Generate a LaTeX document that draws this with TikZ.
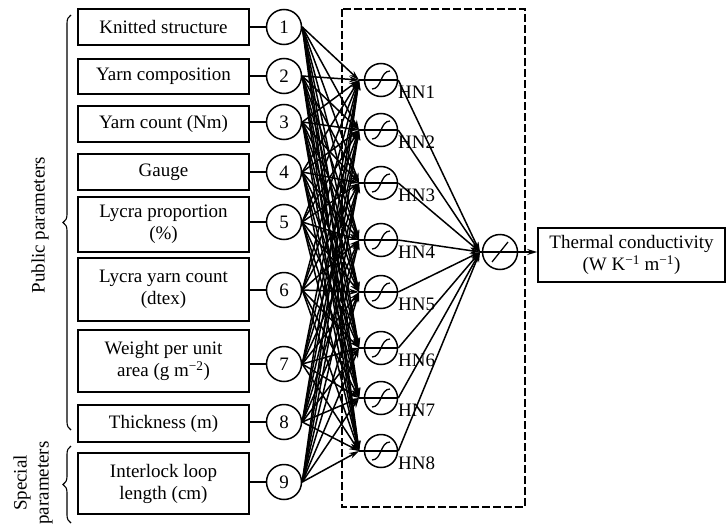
\documentclass[tikz,border=0pt]{standalone}
\usepackage{fontspec}
\setmainfont{Liberation Serif}
\usetikzlibrary{arrows.meta,decorations.pathreplacing,calc}
\begin{document}
\begin{tikzpicture}[x=1pt,y=-1pt,
  font=\fontsize{19}{22}\selectfont,
  inbox/.style={draw,line width=1.6pt,minimum width=171pt,inner sep=0pt,align=center},
  incirc/.style={draw,circle,line width=1.5pt,minimum size=35pt,inner sep=0pt},
  hcirc/.style={draw,circle,line width=1.5pt,minimum size=33pt,inner sep=0pt},
  conn/.style={line width=1.6pt},
  arr/.style={line width=1.5pt,-{Stealth[length=10pt,width=6pt]}},
  bracestyle/.style={decorate,decoration={brace,amplitude=8pt},line width=1.1pt},
  hlabel/.style={anchor=west,inner sep=0pt},
]
\useasboundingbox (0,0) rectangle (727,527);
\fill[white] (0,0) rectangle (727,527);

% input boxes
\node[inbox,minimum height=36pt] (b1) at (163.5,27) {Knitted structure};
\node[inbox,minimum height=35pt] (b2) at (163.5,76.5) {Yarn composition};
\node[inbox,minimum height=36pt] (b3) at (163.5,124) {Yarn count (Nm)};
\node[inbox,minimum height=36pt] (b4) at (163.5,172) {Gauge};
\node[inbox,minimum height=55pt] (b5) at (163.5,224.5) {Lycra proportion\\(\%)};
\node[inbox,minimum height=63pt] (b6) at (163.5,289.5) {Lycra yarn count\\(dtex)};
\node[inbox,minimum height=62pt] (b7) at (163.5,361) {Weight per unit\\area (g m\textsuperscript{−2})};
\node[inbox,minimum height=37pt] (b8) at (163.5,423.5) {Thickness (m)};
\node[inbox,minimum height=61pt] (b9) at (163.5,483.5) {Interlock loop\\length (cm)};

% input circles
\foreach \k/\y in {1/27,2/76,3/122,4/172,5/222,6/290,7/364,8/422,9/482}{
  \node[incirc] (i\k) at (284,\y) {\k};
  \draw[conn] (i\k.west -| b\k.east) -- (i\k.west);
}

% hidden layer frame
\draw[line width=1.1pt,dash pattern=on 8pt off 3pt] (342,9) rectangle (525,507);

% hidden neurons
\foreach \k/\y in {1/80,2/130,3/183,4/240,5/292,6/348,7/398,8/451}{
  \node[hcirc] (h\k) at (381,\y) {};
  \coordinate (hin\k) at (359,\y);
  \draw[conn] (hin\k) -- (h\k.east);
  \draw[line width=1.3pt] ($(h\k)+(-9,9)$) .. controls ($(h\k)+(1,9)$) and ($(h\k)+(-1,-9)$) .. ($(h\k)+(9,-9)$);
  \node[hlabel] (hl\k) at (398,\y+12) {HN\k};
}

% input to hidden connections
\foreach \j in {1,...,9}{
  \foreach \k in {1,...,8}{
    \draw[arr] (i\j.east) -- (hin\k);
  }
}

% output neuron
\node[hcirc,minimum size=35pt] (oc) at (500,252) {};
\coordinate (oin) at (480,252);
\draw[line width=1.3pt] ($(oc)+(-8,10)$) -- ($(oc)+(8,-10)$);
\foreach \k in {1,...,8}{
  \draw[arr] (h\k.east) -- (oin);
}

% output box
\node[inbox,minimum width=187pt,minimum height=54pt] (ob) at (631.5,255) {Thermal conductivity\\(W K\textsuperscript{−1} m\textsuperscript{−1})};
\draw[arr] (oin) -- (ob.west |- oin);

% braces and group labels
\draw[bracestyle] (71,430) -- (71,15);
\node[rotate=90] (pub) at (40,225) {Public parameters};
\draw[bracestyle] (71,523) -- (71,446);
\node[rotate=90,align=center] (spec) at (33,483) {Special\\parameters};
\end{tikzpicture}
\end{document}
